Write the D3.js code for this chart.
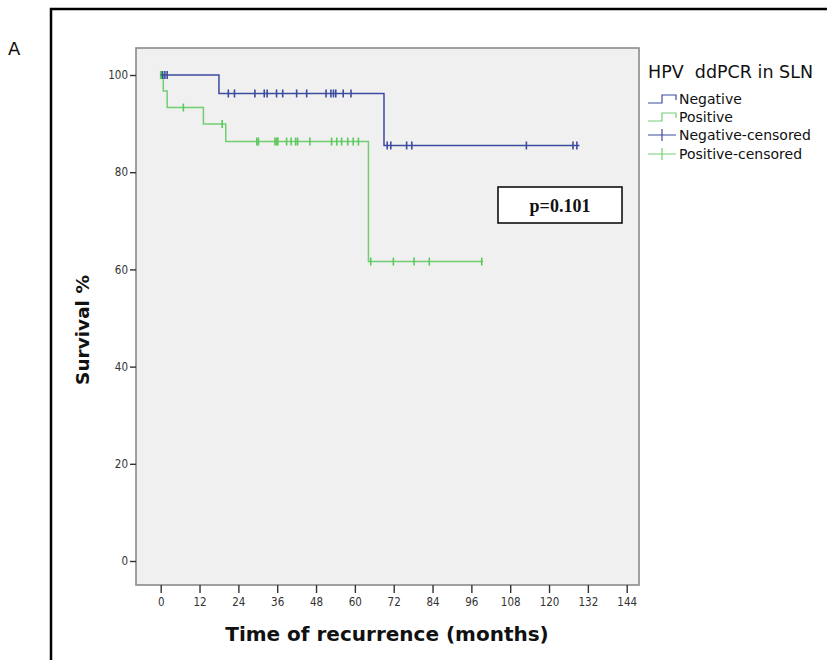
<!DOCTYPE html>
<html>
<head>
<meta charset="utf-8">
<script src="https://cdn.jsdelivr.net/npm/d3@7"></script>
<style>
  body { margin: 0; background: #fff; }
  svg { display: block; }
</style>
</head>
<body>
<svg id="chart"></svg>
<script>
const width = 827;
const height = 660;

// Kaplan-Meier steps (time in months, survival in %)
const negEventTimes = [0, 18, 69];
const negSurvival = [100, 96.2, 85.5];
const negLastTime = 129.4;
const negCensored = [0.6, 1.3, 2.0, 20.9, 22.8, 29.1, 32.0, 32.9, 35.8, 37.7, 42.0, 45.1,
  51.1, 52.6, 53.4, 54.1, 56.4, 58.8, 70.0, 71.1, 76.0, 77.6, 113.0, 127.4, 128.6];

const posEventTimes = [0, 0.8, 2.0, 13.2, 20.1, 64.2];
const posSurvival = [100, 96.7, 93.3, 89.9, 86.3, 61.6];
const posLastTime = 99.6;
const posCensored = [0, 0.3, 7.0, 19.0, 29.7, 30.2, 35.3, 35.8, 36.2, 38.9, 40.3, 41.7, 42.3,
  46.1, 52.8, 54.4, 55.9, 57.8, 59.5, 61.1, 64.9, 71.9, 78.3, 83.0, 99.2];

const xTicks = [0, 12, 24, 36, 48, 60, 72, 84, 96, 108, 120, 132, 144];
const yTicks = [0, 20, 40, 60, 80, 100];
const legendLabels = ["Negative", "Positive", "Negative-censored", "Positive-censored"];

const blue = "#3d4b9e";
const green = "#5cc85c";

const svg = d3.select("#chart")
    .attr("width", width)
    .attr("height", height);

// Outer black frame (runs off the right and bottom edges)
svg.append("rect")
    .attr("x", 51).attr("y", 9)
    .attr("width", 820).attr("height", 700)
    .attr("fill", "none")
    .attr("stroke", "#000")
    .attr("stroke-width", 2.5);

svg.append("text")
    .attr("x", 8).attr("y", 55)
    .attr("font-family", "DejaVu Sans, sans-serif")
    .attr("font-size", 18)
    .attr("fill", "#111")
    .text("A");

// Plot area
const plot = { left: 136, top: 48, right: 639, bottom: 585 };

const x = d3.scaleLinear().domain([0, 144]).range([160.7, 626.7]);
const y = d3.scaleLinear().domain([0, 100]).range([561, 75]);

svg.append("rect")
    .attr("x", plot.left).attr("y", plot.top)
    .attr("width", plot.right - plot.left)
    .attr("height", plot.bottom - plot.top)
    .attr("fill", "#f0f0f0")
    .attr("stroke", "#8a8a8a")
    .attr("stroke-width", 1.6);

// Axes
const xAxis = svg.append("g")
    .attr("transform", `translate(0,${plot.bottom})`)
    .call(d3.axisBottom(x).tickValues(xTicks).tickSize(8).tickPadding(5));

const yAxis = svg.append("g")
    .attr("transform", `translate(${plot.left},0)`)
    .call(d3.axisLeft(y).tickValues(yTicks).tickSize(6).tickPadding(2));

[xAxis, yAxis].forEach(g => {
    g.select(".domain").remove();
    g.selectAll(".tick line").attr("stroke", "#333").attr("stroke-width", 1.4);
    g.selectAll(".tick text")
        .attr("fill", "#333")
        .attr("font-family", "DejaVu Sans Condensed, DejaVu Sans, sans-serif")
        .attr("font-size", 11.5);
});

// Step path builder
function stepLine(times, surv, lastTime) {
    const pts = [];
    times.forEach((t, i) => {
        if (i > 0) pts.push([t, surv[i - 1]]);
        pts.push([t, surv[i]]);
    });
    pts.push([lastTime, surv[surv.length - 1]]);
    return d3.line().x(d => x(d[0])).y(d => y(d[1]))(pts);
}

// survival value at a given time
function survAt(times, surv, t) {
    let s = surv[0];
    times.forEach((et, i) => { if (et <= t) s = surv[i]; });
    return s;
}

function drawGroup(times, surv, lastTime, censored, color, opacity) {
    svg.append("path")
        .attr("d", stepLine(times, surv, lastTime))
        .attr("fill", "none")
        .attr("stroke", color)
        .attr("stroke-opacity", opacity)
        .attr("stroke-width", 1.5);

    svg.append("g").selectAll("line")
        .data(censored)
        .enter().append("line")
        .attr("x1", d => x(d)).attr("x2", d => x(d))
        .attr("y1", d => y(survAt(times, surv, d)) - 4)
        .attr("y2", d => y(survAt(times, surv, d)) + 4)
        .attr("stroke", color)
        .attr("stroke-width", 1.6);
}

drawGroup(posEventTimes, posSurvival, posLastTime, posCensored, green, 0.85);
drawGroup(negEventTimes, negSurvival, negLastTime, negCensored, blue, 1);

// Axis titles
svg.append("text")
    .attr("x", 387).attr("y", 641)
    .attr("text-anchor", "middle")
    .attr("font-family", "DejaVu Sans, sans-serif")
    .attr("font-weight", "bold")
    .attr("font-size", 20)
    .attr("fill", "#111")
    .text("Time of recurrence (months)");

svg.append("text")
    .attr("transform", "translate(89,330) rotate(-90)")
    .attr("text-anchor", "middle")
    .attr("font-family", "DejaVu Sans, sans-serif")
    .attr("font-weight", "bold")
    .attr("font-size", 18.5)
    .attr("fill", "#111")
    .text("Survival %");

// p-value box
svg.append("rect")
    .attr("x", 498).attr("y", 187)
    .attr("width", 124).attr("height", 36)
    .attr("fill", "#fff")
    .attr("stroke", "#111")
    .attr("stroke-width", 1.6);

svg.append("text")
    .attr("x", 560).attr("y", 212)
    .attr("text-anchor", "middle")
    .attr("font-family", "Liberation Serif, serif")
    .attr("font-weight", "bold")
    .attr("font-size", 18)
    .attr("fill", "#111")
    .text("p=0.101");

// Legend
const legend = svg.append("g").attr("transform", "translate(648,0)");

legend.append("text")
    .attr("x", 0).attr("y", 78)
    .attr("font-family", "DejaVu Sans, sans-serif")
    .attr("font-size", 17.5)
    .attr("fill", "#111")
    .style("white-space", "pre")
    .text("HPV  ddPCR in SLN");

const rowY = [99, 117, 135, 154];
const rowColor = [blue, green, blue, green];

legendLabels.forEach((label, i) => {
    const cy = rowY[i];
    if (i < 2) {
        legend.append("path")
            .attr("d", `M0,${cy + 4} H14 V${cy - 4} H28 V${cy + 1}`)
            .attr("fill", "none")
            .attr("stroke", rowColor[i])
            .attr("stroke-opacity", i === 1 ? 0.85 : 1)
            .attr("stroke-width", 1.2);
    } else {
        legend.append("path")
            .attr("d", `M0,${cy} H28 M14,${cy - 6} V${cy + 6}`)
            .attr("fill", "none")
            .attr("stroke", rowColor[i])
            .attr("stroke-opacity", i === 3 ? 0.85 : 1)
            .attr("stroke-width", 1.2);
    }
    legend.append("text")
        .attr("x", 31).attr("y", cy + 5)
        .attr("font-family", "DejaVu Sans, sans-serif")
        .attr("font-size", 14)
        .attr("fill", "#111")
        .text(label);
});
</script>
</body>
</html>
